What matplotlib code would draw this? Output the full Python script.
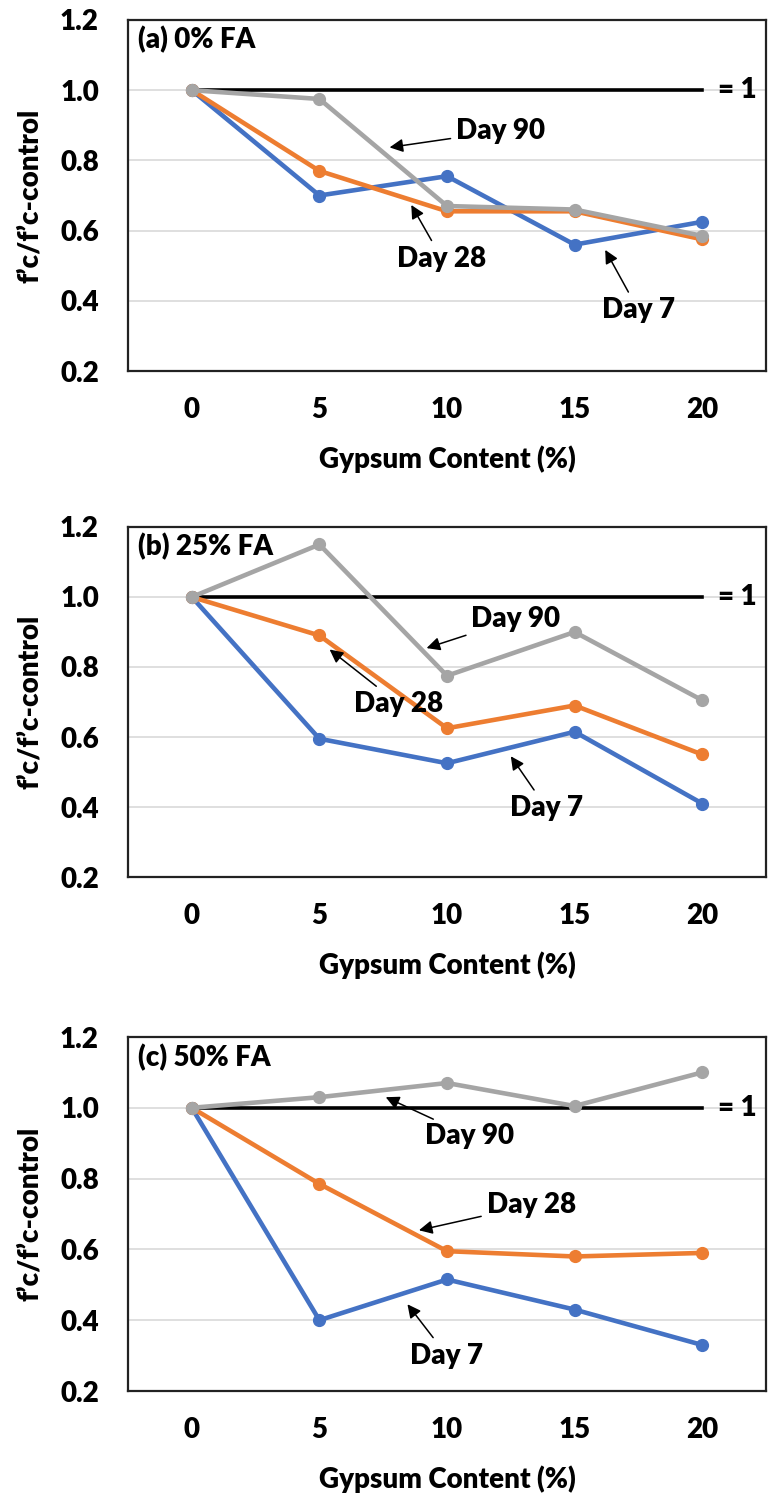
import matplotlib
matplotlib.use("Agg")
import matplotlib.pyplot as plt

plt.rcParams['font.family'] = ['Lato', 'DejaVu Sans']
plt.rcParams['font.weight'] = 'heavy'

# Gypsum replacement levels (%)
gypsum = [0, 5, 10, 15, 20]
ticks_y = [0.2, 0.4, 0.6, 0.8, 1.0, 1.2]

# Strength ratios f'c / f'c-control
fa0_day7 = [1.0, 0.70, 0.755, 0.56, 0.625]
fa0_day28 = [1.0, 0.77, 0.655, 0.655, 0.575]
fa0_day90 = [1.0, 0.975, 0.67, 0.66, 0.585]

fa25_day7 = [1.0, 0.595, 0.525, 0.615, 0.41]
fa25_day28 = [1.0, 0.89, 0.625, 0.69, 0.55]
fa25_day90 = [1.0, 1.15, 0.775, 0.90, 0.705]

fa50_day7 = [1.0, 0.40, 0.515, 0.43, 0.33]
fa50_day28 = [1.0, 0.785, 0.595, 0.58, 0.59]
fa50_day90 = [1.0, 1.03, 1.07, 1.005, 1.10]

titles = ["(a) 0% FA", "(b) 25% FA", "(c) 50% FA"]
series = [
    (fa0_day7, fa0_day28, fa0_day90),
    (fa25_day7, fa25_day28, fa25_day90),
    (fa50_day7, fa50_day28, fa50_day90),
]
day_labels = ["Day 7", "Day 28", "Day 90"]
colors = ["#4472C4", "#ED7D31", "#A5A5A5"]

# label position (x, y) and arrow tip (x, y) for each day label, per panel
callouts = [
    {"Day 90": ((12.1, 0.883), (7.75, 0.837)),
     "Day 28": ((9.8, 0.52), (8.6, 0.673)),
     "Day 7": ((17.5, 0.373), (16.2, 0.545))},
    {"Day 90": ((12.7, 0.937), (9.2, 0.854)),
     "Day 28": ((8.1, 0.695), (5.4, 0.85)),
     "Day 7": ((13.9, 0.397), (12.5, 0.545))},
    {"Day 90": ((10.9, 0.92), (7.6, 1.03)),
     "Day 28": ((13.3, 0.725), (8.9, 0.654)),
     "Day 7": ((10.0, 0.30), (8.45, 0.445))},
]

W, H = 773, 1500
fig = plt.figure(figsize=(W / 100, H / 100), dpi=100)

left = 128 / W
width = (766 - 128) / W
panel_px = [(20, 371), (527, 877), (1037, 1391)]

FS = 20
WT = 'heavy'

for i, (top_px, bot_px) in enumerate(panel_px):
    ax = fig.add_axes([left, 1 - bot_px / H, width, (bot_px - top_px) / H])
    ax.set_xlim(-2.5, 22.5)
    ax.set_ylim(0.2, 1.2)
    ax.set_yticks(ticks_y)
    ax.set_yticklabels([f"{v:.1f}" for v in ticks_y], fontweight=WT)
    ax.set_xticks(gypsum)
    ax.set_xticklabels([str(g) for g in gypsum], fontweight=WT)
    ax.tick_params(length=0, labelsize=FS)
    ax.tick_params(axis='y', pad=21)
    ax.tick_params(axis='x', pad=19)
    for y in [0.4, 0.6, 0.8, 1.0]:
        ax.axhline(y, color="#D9D9D9", lw=1.2, zorder=0)
    for s in ax.spines.values():
        s.set_linewidth(1.6)
        s.set_color("#222222")

    # reference line at ratio 1
    ax.plot([gypsum[0], gypsum[-1]], [1.0, 1.0], color="black", lw=2.6, zorder=2)
    ax.text(20.6, 1.0, "= 1", fontsize=FS, fontweight=WT, va='center',
            ha='left', clip_on=False)

    for vals, c in zip(series[i], colors):
        ax.plot(gypsum, vals, color=c, lw=3.3, marker='o', markersize=8.5,
                zorder=3, solid_capstyle='round')

    ax.text(0.016, 0.943, titles[i], transform=ax.transAxes, fontsize=FS,
            fontweight=WT, va='center', ha='left')

    for lab in day_labels:
        (tx, ty), (hx, hy) = callouts[i][lab]
        ax.annotate(lab, xy=(hx, hy), xytext=(tx, ty), fontsize=FS,
                    fontweight=WT, ha='center', va='center', zorder=5,
                    arrowprops=dict(arrowstyle='-|>', color='black', lw=1.1,
                                    mutation_scale=20, shrinkA=2, shrinkB=0))

    ax.set_xlabel("Gypsum Content (%)", fontsize=FS, fontweight=WT, labelpad=16)
    ax.set_ylabel("f\u2019c/f\u2019c-control", fontsize=FS, fontweight=WT, labelpad=12)

fig.savefig("out.png", dpi=100)
